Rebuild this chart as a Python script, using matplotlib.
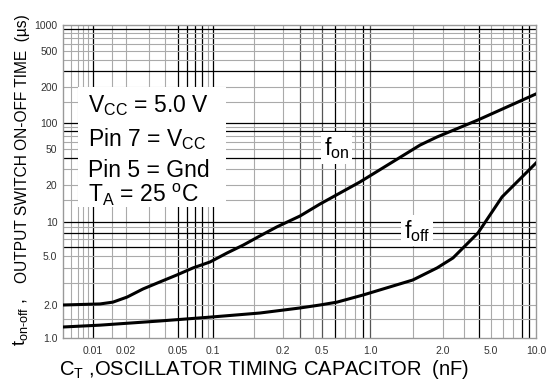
import numpy as np
import matplotlib
matplotlib.use('Agg')
from matplotlib import pyplot as plt
from matplotlib.patches import Rectangle

# values (C_T in nF, time in us)
ct_on = [0.005, 0.0116, 0.0152, 0.0204, 0.027, 0.0364, 0.0491, 0.0673, 0.0942,
         0.115, 0.135, 0.159, 0.188, 0.299, 0.477, 0.865, 1.61, 1.89, 3.90, 10.0]
t_on = [2.0, 2.04, 2.11, 2.32, 2.70, 3.08, 3.51, 4.00, 4.47,
        5.32, 6.25, 7.52, 9.04, 11.2, 14.0, 21.6, 55.6, 68.9, 106.0, 175.0]

ct_off = [0.005, 0.0116, 0.0364, 0.0942, 0.159, 0.299, 0.477, 0.621, 0.904,
          1.50, 1.89, 2.42, 3.90, 5.93, 10.0]
t_off = [1.26, 1.31, 1.43, 1.55, 1.69, 1.88, 2.0, 2.11, 2.41,
         3.19, 4.0, 4.82, 8.0, 16.0, 35.0]

xtick_vals = [0.01, 0.02, 0.05, 0.1, 0.2, 0.5, 1.0, 2.0, 5.0, 10.0]
xtick_labels = ['0.01', '0.02', '0.05', '0.1', '0.2', '0.5', '1.0', '2.0', '5.0', '10.0']
ytick_vals = [1, 2, 5, 10, 20, 50, 100, 200, 500, 1000]
ytick_labels = ['1.0', '2.0', '5.0', '10', '20', '50', '100', '200', '500', '1000']

notes = [r'V$_{\mathregular{CC}}$ = 5.0 V',
         r'Pin 7 = V$_{\mathregular{CC}}$',
         'Pin 5 = Gnd',
         r'T$_{\mathregular{A}}$ = 25 $^{\mathregular{o}}$C']

# the scanned sheet is not a clean log paper, so the axes follow its own spacing
xk_val = [0.005, 0.01, 0.02, 0.05, 0.1, 0.2, 0.5, 1.0, 2.0, 5.0, 10.0]
xk_pos = [0, 30, 63, 115, 150, 220, 259, 307, 380, 428, 473]
yk_val = [1, 2, 5, 10, 20, 50, 100, 200, 500, 1000]
yk_pos = [0, 33, 82, 116, 153, 189, 215, 251, 287, 313]


def make_scale(kv, kp):
    lk = np.log10(kv)
    def fwd(v):
        v = np.asarray(v, dtype=float)
        return np.interp(np.log10(np.clip(v, 1e-9, None)), lk, kp)
    def inv(p):
        return 10 ** np.interp(np.asarray(p, dtype=float), kp, lk)
    return fwd, inv


plt.rcParams['font.family'] = ['Liberation Sans', 'DejaVu Sans']
plt.rcParams['mathtext.fontset'] = 'custom'
plt.rcParams['mathtext.rm'] = 'Liberation Sans'
plt.rcParams['mathtext.it'] = 'Liberation Sans:italic'

fig = plt.figure(figsize=(5.55, 3.81), dpi=100)
ax = fig.add_axes([63 / 555, 1 - 338 / 381, 473 / 555, 313 / 381])
ax.set_xscale('function', functions=make_scale(xk_val, xk_pos))
ax.set_yscale('function', functions=make_scale(yk_val, yk_pos))
ax.set_xlim(0.005, 10)
ax.set_ylim(1, 1000)

# grid lines, a few drawn darker like on the original sheet
xblack = [0.01, 0.05, 0.06, 0.07, 0.08, 0.1, 0.6, 0.9, 4, 8, 9]
xdark = [0.3, 0.5, 1.0]
for dec in [0.001, 0.01, 0.1, 1.0]:
    for m in [1, 1.5, 2, 3, 4, 5, 6, 7, 8, 9]:
        v = round(dec * m, 6)
        if v <= 0.005 or v >= 10:
            continue
        if v in xblack:
            ax.axvline(v, color='black', lw=0.9, zorder=1)
        elif v in xdark:
            ax.axvline(v, color='#555555', lw=0.9, zorder=1)
        else:
            ax.axvline(v, color='#aaaaaa', lw=0.8, zorder=1)

yblack = [900, 300, 100, 80, 40, 10, 8, 6]
for dec in [1, 10, 100]:
    for m in [1, 1.5, 2, 3, 4, 5, 6, 7, 8, 9]:
        v = dec * m
        if v <= 1:
            continue
        if v in yblack:
            ax.axhline(v, color='black', lw=0.9, zorder=1)
        else:
            ax.axhline(v, color='#aaaaaa', lw=0.8, zorder=1)

ax.add_patch(Rectangle((0.032, 0.419), 0.312, 0.383, transform=ax.transAxes,
                       facecolor='white', edgecolor='none', zorder=2))

ax.plot(ct_on, t_on, color='black', lw=2.2, zorder=4)
ax.plot(ct_off, t_off, color='black', lw=2.2, zorder=4)

note_y = [0.722, 0.613, 0.514, 0.434]
for s, yy in zip(notes, note_y):
    ax.text(0.053, yy, s, transform=ax.transAxes, fontsize=16.5,
            va='baseline', ha='left', zorder=5)

ax.text(0.551, 0.585, r'f$_{\mathregular{on}}$', transform=ax.transAxes,
        fontsize=16.5, va='baseline', ha='left', zorder=5,
        bbox=dict(facecolor='white', edgecolor='none', pad=2))
ax.text(0.72, 0.32, r'f$_{\mathregular{off}}$', transform=ax.transAxes,
        fontsize=16.5, va='baseline', ha='left', zorder=5,
        bbox=dict(facecolor='white', edgecolor='none', pad=2))

ax.set_xticks(xtick_vals)
ax.set_xticklabels(xtick_labels)
ax.set_yticks(ytick_vals)
ax.set_yticklabels(ytick_labels)
ax.minorticks_off()
ax.tick_params(length=0, labelsize=7.5, labelcolor='#333333')
ax.tick_params(axis='x', pad=6)
ax.tick_params(axis='y', pad=4)
for sp in ax.spines.values():
    sp.set_color('#999999')
    sp.set_linewidth(1.0)

fig.text(0.476, 0.017, r'C$_{\mathregular{T}}$ ,OSCILLATOR TIMING CAPACITOR  (nF)',
         fontsize=14.5, ha='center', va='baseline')
fig.text(0.037, 1 - 346 / 381, r't$_{\mathregular{on\text{-}off}}$ ,', fontsize=13,
         rotation=90, ha='center', va='bottom')
fig.text(0.041, 1 - 283 / 381, 'OUTPUT SWITCH ON-OFF TIME  (\u00b5s)', fontsize=11.2,
         rotation=90, ha='center', va='bottom')

fig.savefig('out.png', dpi=100)
